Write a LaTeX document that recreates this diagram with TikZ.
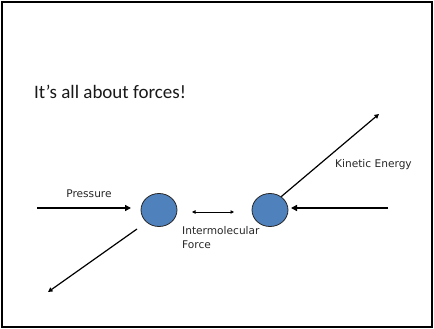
\documentclass[tikz,border=0pt]{standalone}
\usepackage{fontspec}
\setmainfont{Carlito}
\newfontfamily\verd{DejaVu Sans}
\usetikzlibrary{arrows.meta,shapes.geometric}
\definecolor{ballblue}{HTML}{4F81BD}
\begin{document}
\begin{tikzpicture}[x=1pt,y=-1pt,
  ball/.style={ellipse,draw=black!85,line width=0.8pt,fill=ballblue,minimum width=36pt,minimum height=33pt,inner sep=0pt},
  lbl/.style={font=\verd\fontsize{10.6}{14}\selectfont,inner sep=0pt,text=black!85},
  thick arrow/.style={line width=1.9pt,-{Triangle[length=6pt,width=6pt]}},
  mid arrow/.style={line width=1.2pt,-{Triangle[length=4.5pt,width=4.5pt]}},
  thin arrow/.style={line width=0.8pt,{Triangle[length=3.5pt,width=3.5pt]}-{Triangle[length=3.5pt,width=3.5pt]}}]
\useasboundingbox (0,0) rectangle (434,329);
\draw[line width=1.4pt] (2,2) rectangle (432,327);
\node[anchor=base west,inner sep=0pt,font=\fontsize{19}{23}\selectfont,text=black!90] (title) at (34,99) {It’s all about forces!};
\node[ball] (a) at (159,210) {};
\node[ball] (b) at (270,210) {};
\coordinate (pstart) at (37,208);
\coordinate (pend) at (131,208);
\draw[thick arrow] (pstart) -- (pend);
\node[lbl] (plabel) at (89,194) {Pressure};
\coordinate (rstart) at (388,208);
\coordinate (rend) at (291,208);
\draw[thick arrow] (rstart) -- (rend);
\coordinate (istart) at (192,212);
\coordinate (iend) at (234,212);
\draw[thin arrow] (istart) -- (iend);
\node[lbl,anchor=north west,align=left] (ilabel) at (182,226) {Intermolecular\\Force};
\coordinate (kend) at (379,114);
\draw[mid arrow] (b.50) -- (kend);
\node[lbl,anchor=west] (klabel) at (335,165) {Kinetic Energy};
\coordinate (lstart) at (137,229);
\coordinate (lend) at (48,292);
\draw[mid arrow] (lstart) -- (lend);
\end{tikzpicture}
\end{document}
